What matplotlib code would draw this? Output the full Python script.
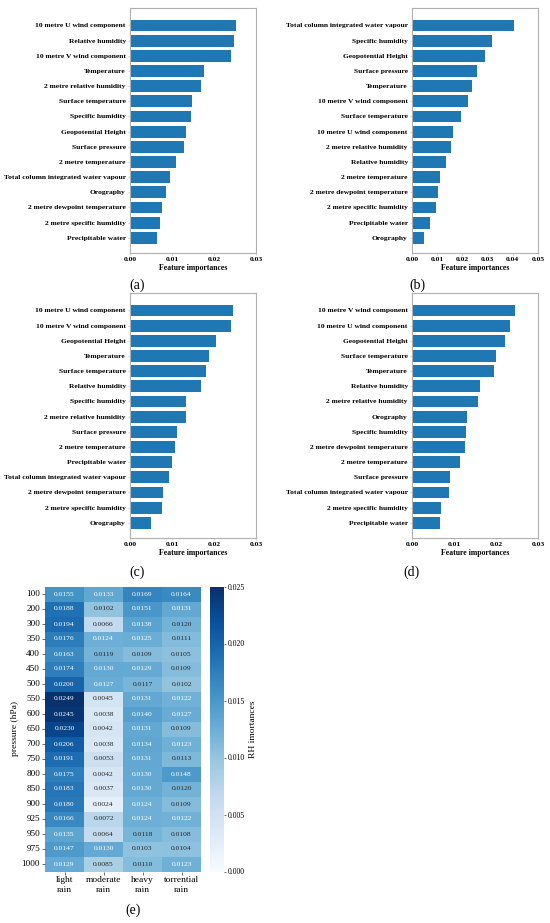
import numpy as np
import matplotlib
matplotlib.use('Agg')
import matplotlib.pyplot as plt
import seaborn as sns

plt.rcParams['font.family'] = ['Liberation Serif', 'DejaVu Serif']

# ═══════════ 数据 ═══════════
feat_a = ['10 metre U wind component', 'Relative humidity', '10 metre V wind component',
          'Temperature', '2 metre relative humidity', 'Surface temperature',
          'Specific humidity', 'Geopotential Height', 'Surface pressure',
          '2 metre temperature', 'Total column integrated water vapour', 'Orography',
          '2 metre dewpoint temperature', '2 metre specific humidity', 'Precipitable water']
imp_a = [0.0252, 0.0248, 0.0241, 0.0176, 0.0169, 0.0148, 0.0146, 0.0133, 0.0129,
         0.0109, 0.0096, 0.0086, 0.0076, 0.0071, 0.0064]

feat_b = ['Total column integrated water vapour', 'Specific humidity', 'Geopotential Height',
          'Surface pressure', 'Temperature', '10 metre V wind component',
          'Surface temperature', '10 metre U wind component', '2 metre relative humidity',
          'Relative humidity', '2 metre temperature', '2 metre dewpoint temperature',
          '2 metre specific humidity', 'Precipitable water', 'Orography']
imp_b = [0.0405, 0.0317, 0.0291, 0.0257, 0.0237, 0.0222, 0.0196, 0.0164, 0.0154,
         0.0133, 0.0113, 0.0103, 0.0096, 0.0070, 0.0049]

feat_c = ['10 metre U wind component', '10 metre V wind component', 'Geopotential Height',
          'Temperature', 'Surface temperature', 'Relative humidity', 'Specific humidity',
          '2 metre relative humidity', 'Surface pressure', '2 metre temperature',
          'Precipitable water', 'Total column integrated water vapour',
          '2 metre dewpoint temperature', '2 metre specific humidity', 'Orography']
imp_c = [0.0246, 0.0240, 0.0205, 0.0188, 0.0180, 0.0168, 0.0134, 0.0133, 0.0111,
         0.0108, 0.0100, 0.0092, 0.0078, 0.0075, 0.0050]

feat_d = ['10 metre V wind component', '10 metre U wind component', 'Geopotential Height',
          'Surface temperature', 'Temperature', 'Relative humidity',
          '2 metre relative humidity', 'Orography', 'Specific humidity',
          '2 metre dewpoint temperature', '2 metre temperature', 'Surface pressure',
          'Total column integrated water vapour', '2 metre specific humidity',
          'Precipitable water']
imp_d = [0.0245, 0.0234, 0.0222, 0.0199, 0.0196, 0.0163, 0.0158, 0.0132, 0.0129,
         0.0127, 0.0114, 0.0091, 0.0087, 0.0068, 0.0066]

pressure_levels = [100, 200, 300, 350, 400, 450, 500, 550, 600, 650, 700, 750,
                   800, 850, 900, 925, 950, 975, 1000]
rain_classes = ['light\nrain', 'moderate\nrain', 'heavy\nrain', 'torrential\nrain']
light_rain = [0.0155, 0.0188, 0.0194, 0.0176, 0.0163, 0.0174, 0.0200, 0.0249, 0.0245,
              0.0230, 0.0206, 0.0191, 0.0175, 0.0183, 0.0180, 0.0166, 0.0135, 0.0147, 0.0129]
moderate_rain = [0.0133, 0.0102, 0.0066, 0.0124, 0.0119, 0.0130, 0.0127, 0.0045, 0.0038,
                 0.0042, 0.0038, 0.0053, 0.0042, 0.0037, 0.0024, 0.0072, 0.0064, 0.0130, 0.0085]
heavy_rain = [0.0169, 0.0151, 0.0138, 0.0125, 0.0109, 0.0129, 0.0117, 0.0131, 0.0140,
              0.0131, 0.0134, 0.0131, 0.0130, 0.0130, 0.0124, 0.0124, 0.0118, 0.0103, 0.0110]
torrential_rain = [0.0164, 0.0131, 0.0120, 0.0111, 0.0105, 0.0109, 0.0102, 0.0122, 0.0127,
                   0.0109, 0.0123, 0.0113, 0.0148, 0.0120, 0.0109, 0.0122, 0.0108, 0.0104, 0.0123]

BAR_COLOR = '#1f77b4'
SPINE_COLOR = '#b0b0b0'
SERIF = ['Liberation Serif', 'DejaVu Serif']


def draw_bars(ax, feats, imps, xmax, xticks):
    """横向条形图，最大值在上"""
    y = np.arange(len(feats))[::-1]
    ax.barh(y, imps, height=0.78, color=BAR_COLOR)
    ax.set_yticks(y)
    ax.set_yticklabels(feats, fontsize=5.4, fontweight='bold')
    ax.set_xlim(0, xmax)
    ax.set_ylim(-1.0, len(feats) - 1 + 1.15)
    ax.set_xticks(xticks)
    ax.set_xticklabels([f'{t:.2f}' for t in xticks], fontsize=5.4, fontweight='bold')
    ax.set_xlabel('Feature importances', fontsize=5.6, fontweight='bold', labelpad=1.5)
    ax.tick_params(length=1.5, width=0.4, pad=1.5, color=SPINE_COLOR)
    for s in ax.spines.values():
        s.set_color(SPINE_COLOR)
        s.set_linewidth(0.8)


fig = plt.figure(figsize=(5.5, 9.23), dpi=100)

W = 126 / 550
H = 245 / 923
ax_a = fig.add_axes([130 / 550, 1 - 253 / 923, W, H])
ax_b = fig.add_axes([412 / 550, 1 - 253 / 923, W, H])
ax_c = fig.add_axes([130 / 550, 1 - 538 / 923, W, H])
ax_d = fig.add_axes([412 / 550, 1 - 538 / 923, W, H])

draw_bars(ax_a, feat_a, imp_a, 0.03, [0, 0.01, 0.02, 0.03])
draw_bars(ax_b, feat_b, imp_b, 0.05, [0, 0.01, 0.02, 0.03, 0.04, 0.05])
draw_bars(ax_c, feat_c, imp_c, 0.03, [0, 0.01, 0.02, 0.03])
draw_bars(ax_d, feat_d, imp_d, 0.03, [0, 0.01, 0.02, 0.03])

# ═══════════ 热力图 ═══════════
data = np.array([light_rain, moderate_rain, heavy_rain, torrential_rain]).T
ax_e = fig.add_axes([45 / 550, 1 - 871.5 / 923, 156 / 550, 285 / 923])
cax = fig.add_axes([210 / 550, 1 - 871.5 / 923, 14 / 550, 285 / 923])
sns.heatmap(data, ax=ax_e, cbar_ax=cax, cmap='Blues', vmin=0, vmax=0.025,
            annot=True, fmt='.4f', annot_kws={'fontsize': 5.4},
            xticklabels=rain_classes, yticklabels=pressure_levels)
ax_e.set_ylabel('pressure (hPa)', fontsize=6.8, labelpad=2, family=SERIF)
ax_e.tick_params(axis='y', labelsize=6.6, rotation=0, length=2, width=0.4, pad=1.5)
ax_e.tick_params(axis='x', labelsize=6.8, rotation=0, length=2, width=0.4, pad=1.5)
for t in ax_e.get_xticklabels() + ax_e.get_yticklabels() + ax_e.texts:
    t.set_family(SERIF)
cax.set_yticks([0, 0.005, 0.01, 0.015, 0.02, 0.025])
cax.set_yticklabels(['0.000', '0.005', '0.010', '0.015', '0.020', '0.025'],
                    fontsize=5.6, family=SERIF)
cax.tick_params(length=1.5, width=0.4, pad=1)
cax.set_ylabel('RH imortances', fontsize=6.8, labelpad=3, family=SERIF)

# ═══════════ 子图标号 ═══════════
for x, y, lab in [(137, 285, '(a)'), (417, 285, '(b)'), (137, 572, '(c)'),
                  (412, 572, '(d)'), (133, 910, '(e)')]:
    fig.text(x / 550, 1 - y / 923, lab, ha='center', va='center', fontsize=10)

fig.savefig('out.png', dpi=100)
